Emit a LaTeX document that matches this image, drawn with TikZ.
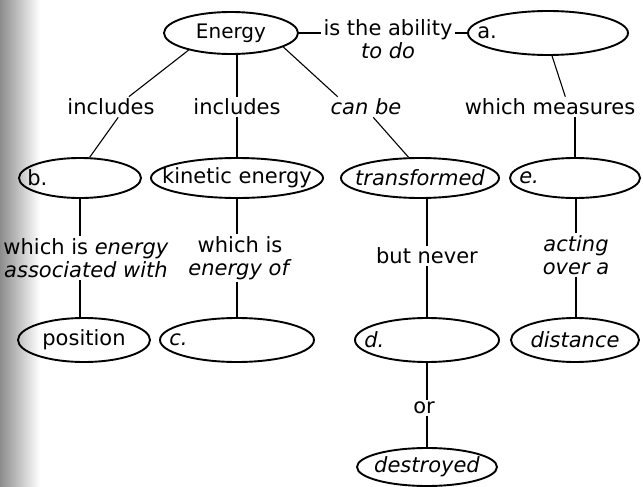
\documentclass[tikz,border=0pt]{standalone}
\usepackage{fontspec}
\setmainfont{DejaVu Sans}
\usetikzlibrary{shapes.geometric}
\begin{document}
\begin{tikzpicture}[x=1pt,y=-1pt,
  oval/.style={ellipse, draw, line width=1.9pt, inner sep=0pt},
  txt/.style={font=\fontsize{21}{23}\selectfont},
  lbl/.style={txt, align=center, inner sep=2pt},
  conn/.style={line width=1.1pt}]
\useasboundingbox (0,0) rectangle (643,487);
\shade[left color=black!45, right color=white] (0,0) rectangle (40,487);
% row 1
\node[oval, minimum width=134, minimum height=42] (energy) at (231,33) {\makebox[0pt]{\fontsize{20}{22}\selectfont Energy}};
\node[lbl] (ability) at (388,39) {is the ability\\\textit{to do}};
\node[oval, minimum width=160, minimum height=44] (a) at (548,33) {};
\node[lbl, anchor=west] (alab) at ([xshift=8pt]a.west) {a.};
% row 2
\node[lbl] (inc1) at (111,107) {includes};
\node[lbl] (inc2) at (237,107) {includes};
\node[lbl] (canbe) at (366,107) {\textit{can be}};
\node[lbl] (meas) at (550,107) {which measures};
% row 3
\node[oval, minimum width=122, minimum height=40] (b) at (80,178) {};
\node[lbl, anchor=west] (blab) at ([xshift=7pt]b.west) {b.};
\node[oval, minimum width=172, minimum height=40] (kin) at (237,178) {\makebox[0pt]{\fontsize{21}{23}\selectfont kinetic energy}};
\node[oval, minimum width=158, minimum height=40] (trans) at (420,178) {\makebox[0pt]{\fontsize{21}{23}\selectfont\itshape transformed}};
\node[oval, minimum width=130, minimum height=40] (e) at (575,178) {};
\node[lbl, anchor=west] (elab) at ([xshift=8pt]e.west) {\textit{e.}};
% row 4
\node[lbl] (l4a) at (86,258) {which is \textit{energy}\\\textit{associated with}};
\node[lbl] (l4b) at (240,258) {which is\\\textit{energy of}};
\node[lbl] (never) at (427,256) {but never};
\node[lbl] (acting) at (576,255) {\textit{acting}\\\textit{over a}};
% row 5
\node[oval, minimum width=132, minimum height=44] (pos) at (84,340) {\makebox[0pt]{\fontsize{21}{23}\selectfont position}};
\node[oval, minimum width=154, minimum height=44] (c) at (237,340) {};
\node[lbl, anchor=west] (clab) at ([xshift=8pt]c.west) {\textit{c.}};
\node[oval, minimum width=144, minimum height=44] (d) at (427,340) {};
\node[lbl, anchor=west] (dlab) at ([xshift=8pt]d.west) {\textit{d.}};
\node[oval, minimum width=128, minimum height=44] (dist) at (575,340) {\makebox[0pt]{\fontsize{21}{23}\selectfont\itshape distance}};
% row 6
\node[lbl] (or) at (424,408) {or};
\node[oval, minimum width=140, minimum height=38] (destr) at (427,467) {\makebox[0pt]{\fontsize{21}{23}\selectfont\itshape destroyed}};
% connectors
\draw[conn] (energy.east) -- (energy.east -| ability.west);
\draw[conn] (ability.east |- a.west) -- (a.west);
\draw[conn] (energy.202) -- (inc1.30);
\draw[conn] (inc1.305) -- (b.65);
\draw[conn] (energy.south -| inc2.north) -- (inc2.north);
\draw[conn] (inc2.south) -- (kin.north);
\draw[conn] (energy.-15) -- (canbe.160);
\draw[conn] (canbe.305) -- (trans.119);
\draw[conn] (a.280) -- (meas.34);
\draw[conn] (meas.south -| e.north) -- (e.north);
\draw[conn] (b.south) -- (b.south |- l4a.north);
\draw[conn] (b.south |- l4a.south) -- (b.south |- pos.north);
\draw[conn] (kin.south) -- (kin.south |- l4b.north);
\draw[conn] (kin.south |- l4b.south) -- (c.north);
\draw[conn] (trans.south -| never.north) -- (never.north);
\draw[conn] (never.south) -- (d.north);
\draw[conn] (d.south) -- (d.south |- or.north);
\draw[conn] (d.south |- or.south) -- (destr.north);
\draw[conn] (e.south -| acting.north) -- (acting.north);
\draw[conn] (acting.south) -- (acting.south |- dist.north);
\end{tikzpicture}
\end{document}
